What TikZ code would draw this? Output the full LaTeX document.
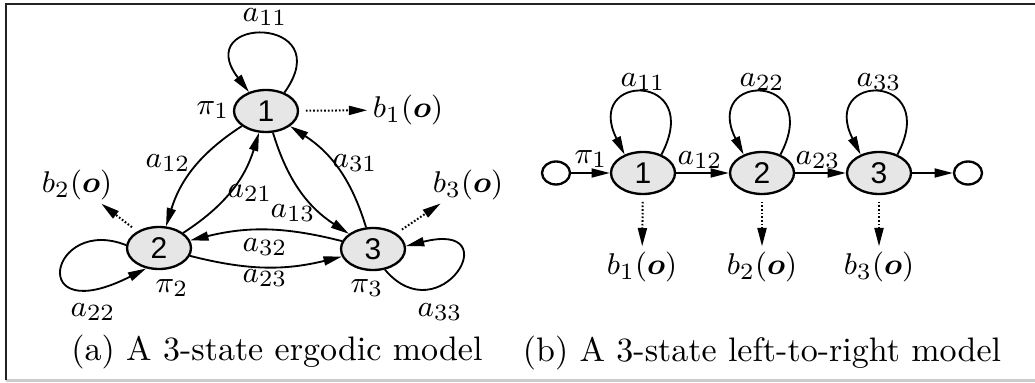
\documentclass[tikz,border=0pt]{standalone}
\usepackage{amsmath}
\usepackage{fontspec}
\newfontfamily\digitfont{Liberation Sans}
\usetikzlibrary{arrows.meta,shapes.geometric}
\definecolor{nodegray}{HTML}{E6E6E6}
\definecolor{framedark}{HTML}{222222}
\definecolor{framelight}{HTML}{CCCCCC}
\begin{document}
\begin{tikzpicture}[x=0.3pt,y=-0.3pt,
  >={Triangle[length=5.5pt,width=2.7pt]},
  state/.style={ellipse, draw, line width=0.7pt, fill=nodegray, minimum width=19.2pt, minimum height=12.6pt, inner sep=0pt, font=\digitfont\fontsize{9}{10}\selectfont},
  endc/.style={ellipse, draw, line width=0.7pt, fill=white, minimum width=8.4pt, minimum height=6.9pt, inner sep=0pt},
  lab/.style={inner sep=0pt, font=\fontsize{9.5}{11}\selectfont},
  edge/.style={->, line width=0.55pt},
  obs/.style={->, line width=0.6pt, dash pattern=on 0.5pt off 0.6pt, shorten <=2pt, shorten >=1.5pt},
  captext/.style={inner sep=0pt, font=\fontsize{10.2}{12}\selectfont}]
\useasboundingbox (0,0) rectangle (1035,383);
% frame
\draw[framelight, line width=0.9pt] (6,380) -- (1035,380);
\draw[framedark, line width=0.6pt] (6,380) -- (6,4.5) -- (1035,4.5);

% ---------- (a) ergodic ----------
\node[state] (n1) at (266,111) {1};
\node[state] (n2) at (159,248) {2};
\node[state] (n3) at (373,249) {3};
\node[lab] (b1) at (408,110) {$b_1(\boldsymbol{o})$};
\node[lab] (b2) at (77,185) {$b_2(\boldsymbol{o})$};
\node[lab] (b3) at (468,185) {$b_3(\boldsymbol{o})$};
\node[lab] (p1) at (213,110) {$\pi_1$};
\node[lab] (p2) at (172,288) {$\pi_2$};
\node[lab] (p3) at (367,288) {$\pi_3$};
\node[lab] (la11) at (265,17) {$a_{11}$};
\node[lab] (la12) at (168,163) {$a_{12}$};
\node[lab] (la21) at (250,193) {$a_{21}$};
\node[lab] (la13) at (293,213) {$a_{13}$};
\node[lab] (la31) at (355,163) {$a_{31}$};
\node[lab] (la32) at (265,247) {$a_{32}$};
\node[lab] (la23) at (265,278) {$a_{23}$};
\node[lab] (la22) at (93,312) {$a_{22}$};
\node[lab] (la33) at (440,312) {$a_{33}$};
\node[captext] (capa) at (277,352) {(a) A 3-state ergodic model};

\draw[edge] (n1.45) .. controls (340,15) and (190,15) .. (n1.132);
\draw[edge] (n2.175) .. controls (50,215) and (25,330) .. (n2.238);
\draw[edge] (n3.300) .. controls (440,335) and (510,220) .. (n3.5);
\draw[edge] (n1) to[bend right=20] (n2);
\draw[edge] (n2) to[bend right=20] (n1);
\draw[edge] (n1) to[bend right=20] (n3);
\draw[edge] (n3) to[bend right=20] (n1);
\draw[edge] (n3) to[bend right=14] (n2);
\draw[edge] (n2) to[bend right=14] (n3);
\draw[obs] (n1) -- (b1);
\draw[obs] (n2) -- (b2);
\draw[obs] (n3) -- (b3);

% ---------- (b) left-to-right ----------
\node[endc] (s) at (556,173) {};
\node[state] (m1) at (643,173) {1};
\node[state] (m2) at (762,173) {2};
\node[state] (m3) at (879,173) {3};
\node[endc] (e) at (968,173) {};
\node[lab] (q1) at (642,267) {$b_1(\boldsymbol{o})$};
\node[lab] (q2) at (762,267) {$b_2(\boldsymbol{o})$};
\node[lab] (q3) at (879,267) {$b_3(\boldsymbol{o})$};
\node[lab] (pp1) at (591,159) {$\pi_1$};
\node[lab] (lb12) at (700,160) {$a_{12}$};
\node[lab] (lb23) at (818,160) {$a_{23}$};
\node[lab] (lb11) at (643,82) {$a_{11}$};
\node[lab] (lb22) at (762,82) {$a_{22}$};
\node[lab] (lb33) at (879,82) {$a_{33}$};
\node[captext] (capb) at (762,353) {(b) A 3-state left-to-right model};

\draw[edge] (s) -- (m1);
\draw[edge] (m1) -- (m2);
\draw[edge] (m2) -- (m3);
\draw[edge] (m3) -- (e);
\draw[edge] (m1.45) .. controls (705,72) and (583,72) .. (m1.135);
\draw[edge] (m2.45) .. controls (824,72) and (702,72) .. (m2.135);
\draw[edge] (m3.45) .. controls (941,72) and (819,72) .. (m3.135);
\draw[obs] (m1) -- (q1);
\draw[obs] (m2) -- (q2);
\draw[obs] (m3) -- (q3);
\end{tikzpicture}
\end{document}
